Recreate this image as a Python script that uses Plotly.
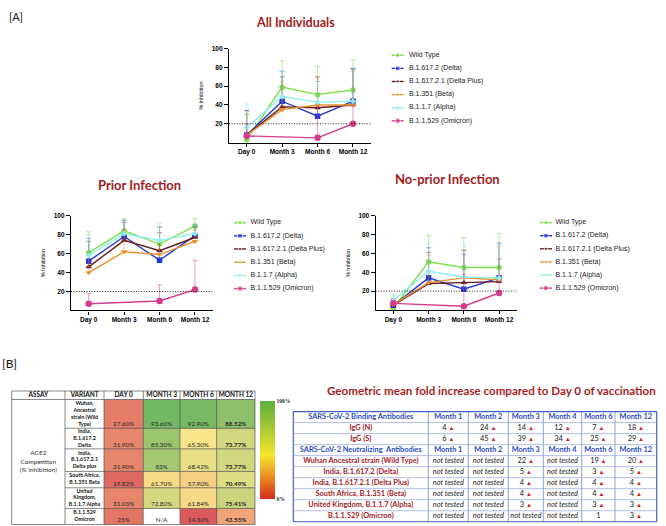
import plotly.graph_objects as go
import numpy as np

W, H = 666, 526

# ---------------- data: line charts ----------------
days = ["Day 0", "Month 3", "Month 6", "Month 12"]
variants = ["Wild Type", "B.1.617.2 (Delta)", "B.1.617.2.1 (Delta Plus)",
            "B.1.351 (Beta)", "B.1.1.7 (Alpha)", "B.1.1.529 (Omicron)"]

all_mean = [[3, 59, 51, 56], [8, 44, 28, 44], [8, 38, 37, 40],
            [8, 35, 40, 40], [16, 49, 43, 44], [7, None, 5, 20]]
all_err = [[27, 28, 30, 32], [26, 32, 37, 35], [26, 32, 33, 38],
           [22, 30, 30, 36], [25, 27, 22, 36], [13, 0, 33, 20]]

prior_mean = [[61, 84, 70, 89], [52, 78, 53, 79], [46, 74, 63, 77],
              [40, 62, 59, 73], [58, 81, 74, 81], [7, None, 10, 22]]
prior_err = [[22, 13, 18, 8], [24, 17, 29, 11], [27, 19, 25, 11],
             [20, 23, 23, 12], [22, 15, 18, 9], [11, 0, 17, 31]]

noprior_mean = [[2, 51, 45, 45], [5, 34, 22, 34], [5, 28, 29, 30],
                [6, 29, 34, 32], [10, 41, 35, 34], [7, None, 4, 18]]
noprior_err = [[13, 28, 32, 36], [7, 32, 37, 37], [6, 33, 34, 24],
               [6, 29, 30, 36], [7, 30, 33, 36], [3, 0, 34, 12]]

y_ticks = [20, 40, 60, 80, 100]
threshold = 20

# ---------------- data: ACE2 table ----------------
ace2_headers = ["ASSAY", "VARIANT", "DAY 0", "MONTH 3", "MONTH 6", "MONTH 12"]
ace2_assay = "ACE2<br>Competition<br>(% inhibition)"
ace2_variants = ["Wuhan,<br>Ancestral<br>strain (Wild<br>Type)",
                 "India,<br>B.1.617.2<br>Delta",
                 "India,<br>B.1.617.2.1<br>Delta plus",
                 "South Africa,<br>B.1.351 Beta",
                 "United<br>Kingdom,<br>B.1.1.7 Alpha",
                 "B.1.1.529<br>Omicron"]
ace2_day0 = [27.60, 31.90, 31.90, 19.82, 31.03, 25]
ace2_m3 = [93.60, 85.30, 83, 61.70, 72.80, None]
ace2_m6 = [92.90, 65.30, 68.42, 57.90, 61.84, 14.30]
ace2_m12 = [88.52, 73.77, 73.77, 70.49, 75.41, 43.55]

# ---------------- data: fold-increase table ----------------
gm_months = ["Month 1", "Month 2", "Month 3", "Month 4", "Month 6", "Month 12"]
gm_bind_title = "SARS-CoV-2 Binding Antibodies"
gm_bind_rows = ["IgG (N)", "IgG (S)"]
gm_igg_n = [4, 24, 14, 12, 7, 18]
gm_igg_s = [6, 45, 39, 34, 25, 29]
gm_neut_title = "SARS-CoV-2 Neutralizing  Antibodies"
gm_neut_rows = ["Wuhan Ancestral strain (Wild Type)", "India, B.1.617.2 (Delta)",
                "India, B.1.617.2.1 (Delta Plus)", "South Africa, B.1.351 (Beta)",
                "United Kingdom, B.1.1.7 (Alpha)", "B.1.1.529 (Omicron)"]
gm_wuhan = [None, None, 22, None, 19, 20]
gm_delta = [None, None, 5, None, 3, 5]
gm_deltaplus = [None, None, 4, None, 4, 4]
gm_beta = [None, None, 4, None, 4, 4]
gm_alpha = [None, None, 3, None, 3, 3]
gm_omicron = [None, None, None, None, 1, 3]

# ---------------- styles ----------------
colors = ["#7EE04C", "#2139D6", "#6B1B1B", "#E8922F", "#8EEFF0", "#D53C8C"]
err_colors = ["rgba(126,224,76,0.55)", "rgba(33,57,214,0.45)", "rgba(107,27,27,0.45)",
              "rgba(232,146,47,0.5)", "rgba(142,239,240,0.6)", "rgba(213,60,140,0.5)"]
symbols = ["circle", "square", "triangle-up", "triangle-down", "diamond", "circle"]
msizes = [5.5, 5.5, 5.5, 5.5, 4.5, 6.5]
TITLE_RED = "#A01C1C"
SANS = "Liberation Sans"
CAL = "Lato"


def px(x):
    return x / W


def py(y):
    return 1 - y / H


fig = go.Figure()

# panel geometry: (x_left, x_right, y_top(100), y_bottom(0))
panels = [
    (all_mean, all_err, "x", "y", (229, 370.7, 45, 139.6)),
    (prior_mean, prior_err, "x2", "y2", (71, 212.7, 213.3, 308.8)),
    (noprior_mean, noprior_err, "x3", "y3", (375.7, 516.7, 213.3, 308.3)),
]

layout_axes = {}
shapes = []
for pi, (means, errs, xa, ya, geo) in enumerate(panels):
    for k in range(len(variants)):
        fig.add_trace(go.Scatter(
            x=list(range(len(days))), y=means[k], xaxis=xa, yaxis=ya,
            mode="lines+markers", connectgaps=True, cliponaxis=False,
            line=dict(color=colors[k], width=1.4),
            marker=dict(symbol=symbols[k], size=msizes[k], color=colors[k]),
            error_y=dict(type="data", array=errs[k], arrayminus=[0] * 4,
                         symmetric=False, color=err_colors[k], thickness=1, width=2.5),
            hoverinfo="skip", showlegend=False))
    x0, x1, yt, yb = geo
    sx = "" if pi == 0 else str(pi + 1)
    layout_axes["xaxis" + sx] = dict(
        domain=[px(x0), px(x1)], range=[-0.5, 3.5], tickvals=list(range(4)), ticktext=days,
        showline=True, linecolor="black", linewidth=1.3, ticks="outside", ticklen=3,
        tickwidth=1.1, tickcolor="black", showgrid=False, zeroline=False,
        tickfont=dict(family=SANS, size=6.5, color="black", weight="bold"),
        anchor="y" + sx, fixedrange=True)
    layout_axes["yaxis" + sx] = dict(
        domain=[py(yb), py(yt)], range=[0, 100], tickvals=y_ticks,
        showline=True, linecolor="black", linewidth=1.3, ticks="outside", ticklen=4,
        tickwidth=1.1, tickcolor="black", showgrid=False, zeroline=False,
        tickfont=dict(family=SANS, size=6.5, color="black", weight="bold"),
        title=dict(text="% Inhibition", font=dict(family=SANS, size=5.5, color="black"),
                   standoff=7),
        anchor="x" + sx, fixedrange=True)
    shapes.append(dict(type="line", xref=xa + " domain", yref=ya, x0=0, x1=1,
                       y0=threshold, y1=threshold,
                       line=dict(color="#222", width=1, dash="1px,1.6px")))

# ---------------- canvas axis (pixel coordinates) ----------------
CX, CY = "x4", "y4"
layout_axes["xaxis4"] = dict(domain=[0, 1], range=[0, W], visible=False, fixedrange=True,
                             anchor="y4")
layout_axes["yaxis4"] = dict(domain=[0, 1], range=[H, 0], visible=False, fixedrange=True,
                             anchor="x4")

# custom legends
legend_geo = [(397.7, 409.0, 51.7, 13.2), (240.0, 250.5, 220.3, 13.3), (546.0, 555.5, 220.3, 13.2)]
for (lx, tx, ly, step) in legend_geo:
    for k in range(len(variants)):
        yy = ly + k * step
        fig.add_trace(go.Scatter(
            x=[lx - 6, lx, lx + 6], y=[yy] * 3, xaxis=CX, yaxis=CY, mode="lines+markers",
            line=dict(color=colors[k], width=1.4),
            marker=dict(symbol=symbols[k], size=[0, msizes[k] - 1, 0], color=colors[k]),
            hoverinfo="skip", showlegend=False, cliponaxis=False))
    fig.add_trace(go.Scatter(
        x=[tx] * len(variants), y=[ly + k * step for k in range(len(variants))],
        xaxis=CX, yaxis=CY, mode="text", text=variants, textposition="middle right",
        textfont=dict(family=SANS, size=7, color="#222"), hoverinfo="skip",
        showlegend=False, cliponaxis=False))

# ---------------- ACE2 heat table ----------------
col_edges = [11.7, 65, 104, 143.3, 180, 216.7, 255]
row_edges = [390, 398.5, 427.5, 448.3, 471, 487.5, 508.3, 524.5]

ace2_z = [list(r) for r in zip(ace2_day0, ace2_m3, ace2_m6, ace2_m12)]
vals = np.array([v for r in ace2_z for v in r if v is not None], dtype=float)
zmin, zmax, zmid = vals.min(), vals.max(), np.percentile(vals, 50)
mid = (zmid - zmin) / (zmax - zmin)
cell_cs = [[0, "#DB5A5E"], [mid * 0.5, "#EE9A74"], [mid, "#F8E48A"], [1, "#74B864"]]

fig.add_trace(go.Heatmap(
    x=col_edges[2:], y=row_edges[1:], z=ace2_z, xaxis=CX, yaxis=CY,
    colorscale=cell_cs, zmin=zmin, zmax=zmax, showscale=False, hoverinfo="skip"))

# colour legend bar
bar_cs = [[0, "#D42A1C"], [0.22, "#EC8A22"], [0.45, "#F4E52A"], [1, "#5AAE3E"]]
fig.add_trace(go.Scatter(
    x=[0, 0], y=[0, 0], xaxis=CX, yaxis=CY, mode="markers", hoverinfo="skip",
    showlegend=False,
    marker=dict(color=[0, 100], colorscale=bar_cs, cmin=0, cmax=100, opacity=0, size=1,
                showscale=True,
                colorbar=dict(x=px(260), xanchor="left", y=py(400), yanchor="top",
                              len=98, lenmode="pixels", thickness=15, thicknessmode="pixels",
                              xpad=0, ypad=0, outlinewidth=0, tickvals=[0, 100],
                              ticktext=["0%", "100%"], ticks="",
                              tickfont=dict(family="Liberation Serif", size=5.5,
                                            color="#333", weight="bold")))))

# header texts
hx = [(col_edges[i] + col_edges[i + 1]) / 2 for i in range(6)]
hy = (row_edges[0] + row_edges[1]) / 2
fig.add_trace(go.Scatter(
    x=hx, y=[hy] * 6, xaxis=CX, yaxis=CY, mode="text",
    text=["<b>%s</b>" % h for h in ace2_headers], textposition="middle center",
    textfont=dict(family=CAL, size=6.5, color="#111"), hoverinfo="skip", showlegend=False))
# variant texts
rc = [(row_edges[i + 1] + row_edges[i + 2]) / 2 for i in range(6)]
fig.add_trace(go.Scatter(
    x=[hx[1]] * 6, y=rc, xaxis=CX, yaxis=CY, mode="text",
    text=["<b>%s</b>" % v for v in ace2_variants], textposition="middle center",
    textfont=dict(family=CAL, size=5.3, color="#111"), hoverinfo="skip", showlegend=False))
# assay text
fig.add_trace(go.Scatter(
    x=[hx[0]], y=[(row_edges[1] + row_edges[-1]) / 2], xaxis=CX, yaxis=CY, mode="text",
    text=[ace2_assay], textposition="middle center",
    textfont=dict(family=CAL, size=6.5, color="#333"), hoverinfo="skip", showlegend=False))


def pct(v):
    if v is None:
        return "N/A"
    return "%d%%" % v if float(v).is_integer() else "%.2f%%" % v


tx_, ty_, tt_ = [], [], []
for r, row in enumerate(ace2_z):
    for c, v in enumerate(row):
        tx_.append(hx[c + 2])
        ty_.append(row_edges[r + 2] - 0.6)
        s = pct(v)
        tt_.append("<b>%s</b>" % s if c == 3 else s)
fig.add_trace(go.Scatter(
    x=tx_, y=ty_, xaxis=CX, yaxis=CY, mode="text", text=tt_, textposition="top center",
    textfont=dict(family=CAL, size=6.3, color="#2a2a2a"), hoverinfo="skip", showlegend=False))

# grid lines of ACE2 table
GL = dict(color="#555", width=0.7)
for xe in col_edges:
    shapes.append(dict(type="line", xref=CX, yref=CY, x0=xe, x1=xe, y0=row_edges[0],
                       y1=row_edges[-1], line=GL))
for i, ye in enumerate(row_edges):
    xs = col_edges[0] if i in (0, 1, len(row_edges) - 1) else col_edges[1]
    shapes.append(dict(type="line", xref=CX, yref=CY, x0=xs, x1=col_edges[-1], y0=ye,
                       y1=ye, line=GL))

# ---------------- fold increase table ----------------
rt_cols = [293.3, 428.3, 468.3, 508.3, 543.3, 581.7, 615, 656.7]
rt_top, rt_rh = 410.7, 11.1
BLUE, LRED, TRI = "#2B4CC0", "#A3201F", "#D42020"


def fold(v):
    if v is None:
        return "<i>not tested</i>"
    if v > 1:
        return "%d <span style='color:%s;font-size:6px'>▲</span>" % (v, TRI)
    return "%d" % v


table_rows = ([(gm_bind_title, gm_months, True)] +
              [(n, [fold(v) for v in vals_], False)
               for n, vals_ in zip(gm_bind_rows, [gm_igg_n, gm_igg_s])] +
              [(gm_neut_title, gm_months, True)] +
              [(n, [fold(v) for v in vals_], False)
               for n, vals_ in zip(gm_neut_rows, [gm_wuhan, gm_delta, gm_deltaplus,
                                                   gm_beta, gm_alpha, gm_omicron])])
rcx = [(rt_cols[i] + rt_cols[i + 1]) / 2 for i in range(7)]
gx, gy, gt, gc = [], [], [], []
for r, (label, cells, is_head) in enumerate(table_rows):
    yc = rt_top + (r + 0.5) * rt_rh
    gx.append(rcx[0]); gy.append(yc); gt.append("<b>%s</b>" % label)
    gc.append(BLUE if is_head else LRED)
    for c, s in enumerate(cells):
        gx.append(rcx[c + 1]); gy.append(yc)
        gt.append("<b>%s</b>" % s if is_head else s)
        gc.append(BLUE if is_head else "#1a1a1a")
fig.add_trace(go.Scatter(
    x=gx, y=gy, xaxis=CX, yaxis=CY, mode="text", text=gt, textposition="middle center",
    textfont=dict(family=CAL, size=7.4, color=gc), hoverinfo="skip", showlegend=False))

n_rows = len(table_rows)
rt_bottom = rt_top + n_rows * rt_rh
for i, xe in enumerate(rt_cols):
    outer = i in (0, len(rt_cols) - 1)
    shapes.append(dict(type="line", xref=CX, yref=CY, x0=xe, x1=xe, y0=rt_top, y1=rt_bottom,
                       line=dict(color="#3F62C4" if outer else "#6E8BD6",
                                 width=1.2 if outer else 0.8)))
for i in range(n_rows + 1):
    ye = rt_top + i * rt_rh
    outer = i in (0, n_rows)
    shapes.append(dict(type="line", xref=CX, yref=CY, x0=rt_cols[0], x1=rt_cols[-1], y0=ye,
                       y1=ye, line=dict(color="#3F62C4" if outer else "#8FA4DA",
                                        width=1.2 if outer else 0.7)))

# ---------------- titles ----------------
def ann(x, y, text, size, color, family=CAL, bold=True):
    return dict(x=x, y=y, xref=CX, yref=CY, text=text, showarrow=False,
                xanchor="center", yanchor="middle",
                font=dict(family=family, size=size, color=color,
                          weight="bold" if bold else "normal"))


annotations = [
    ann(15.8, 12.7, "[A]", 11, "#111", bold=False),
    ann(295, 18.3, "All Individuals", 12.5, TITLE_RED),
    ann(139, 182.7, "Prior Infection", 13, TITLE_RED),
    ann(447, 176.7, "No-prior Infection", 13, TITLE_RED),
    ann(9.7, 362.7, "[B]", 12, "#111", bold=False),
    ann(491.7, 389.3, "Geometric mean fold increase compared to Day 0 of vaccination",
        11.6, "#A81E1E"),
]

fig.update_layout(
    width=W, height=H, margin=dict(l=0, r=0, t=0, b=0),
    paper_bgcolor="white", plot_bgcolor="rgba(0,0,0,0)", showlegend=False,
    shapes=shapes, annotations=annotations, **layout_axes)

fig.write_html("out.html", config={"displayModeBar": False},
               post_script="document.body.style.margin='0';"
                           "document.body.style.overflow='hidden';")
